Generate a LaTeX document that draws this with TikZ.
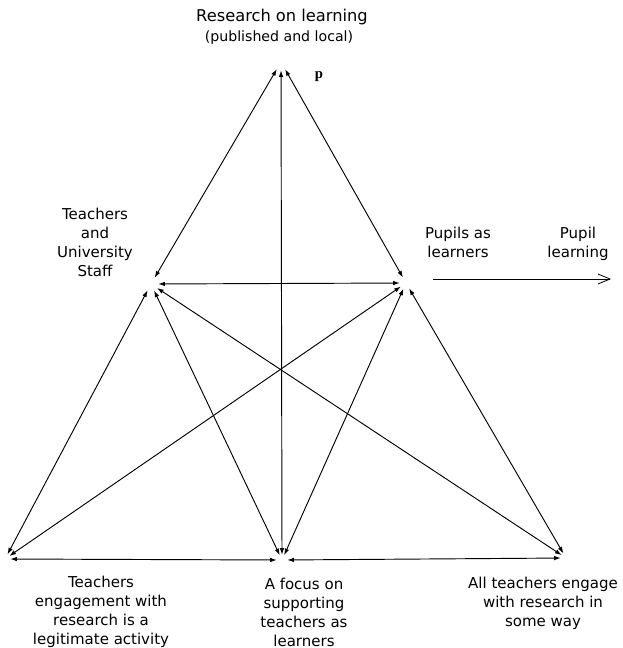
\documentclass[tikz,border=0pt]{standalone}
\usepackage{fontspec}
\usetikzlibrary{arrows.meta}
\newfontfamily\vfont{DejaVu Sans}
\newfontfamily\tfont{Liberation Serif}
\begin{document}
\begin{tikzpicture}[x=0.75pt,y=-0.75pt,
  vx/.style={circle,inner sep=0pt,minimum size=#1},
  dbl/.style={line width=0.7pt,{Latex[length=5pt,width=3.4pt]}-{Latex[length=5pt,width=3.4pt]}},
  lbl/.style={align=center,inner sep=0pt,font=\vfont\fontsize{11.25}{14.25}\selectfont},
  openarr/.style={line width=0.6pt,-{Straight Barb[length=9pt,width=7.5pt]}}]
\useasboundingbox (0,0) rectangle (623,648);
% vertices
\node[vx=12pt] (T)  at (281,62) {};
\node[vx=10.5pt] (L)  at (151,284) {};
\node[vx=9pt] (R)  at (406,283) {};
\node[vx=7.5pt] (BL) at (5,559) {};
\node[vx=7.5pt] (BC) at (282,560) {};
\node[vx=7.5pt] (BR) at (566,558) {};
% connectors
\draw[dbl] (T) -- (L);
\draw[dbl] (T) -- (R);
\draw[dbl] (T) -- (BC);
\draw[dbl] (L) -- (R);
\draw[dbl] (L) -- (BL);
\draw[dbl] (L) -- (BC);
\draw[dbl] (L) -- (BR);
\draw[dbl] (R) -- (BL);
\draw[dbl] (R) -- (BC);
\draw[dbl] (R) -- (BR);
\draw[dbl] (BL) -- (BC);
\draw[dbl] (BC) -- (BR);
% pupil learning arrow
\coordinate (pa) at (433,279);
\coordinate (pb) at (611,279);
\draw[openarr] (pa) -- (pb);
% labels
\node[lbl,font=\vfont\fontsize{12.2}{14}\selectfont] (title) at (282,17) {Research on learning};
\node[lbl,font=\vfont\fontsize{10.6}{13}\selectfont] (sub) at (279,38) {(published and local)};
\node[inner sep=0pt,font=\tfont\bfseries\fontsize{11}{13}\selectfont] (p) at (319,77) {p};
\node[lbl] (tus) at (95,242) {Teachers\\and\\University\\Staff};
\node[lbl] (pal) at (458,242) {Pupils as\\learners};
\node[lbl] (pl) at (578,244) {Pupil\\learning};
\node[lbl] (tel) at (101,612) {Teachers\\engagement with\\research is a\\legitimate activity};
\node[lbl] (fst) at (304,612) {A focus on\\supporting\\teachers as\\learners};
\node[lbl] (ate) at (543,603) {All teachers engage\\with research in\\some way};
\end{tikzpicture}
\end{document}
